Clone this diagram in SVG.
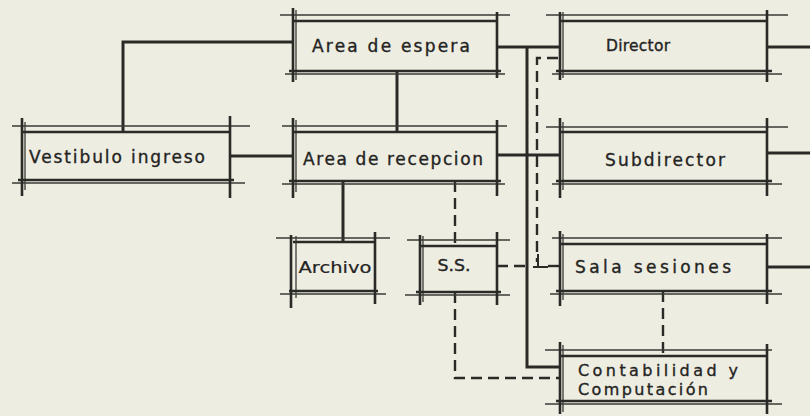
<svg xmlns="http://www.w3.org/2000/svg" width="810" height="416" viewBox="0 0 810 416">
<style>
.bg{fill:#eeede2}
.thick{stroke:#2a2a27;stroke-width:2.6;fill:none}
.thin{stroke:#3b3b37;stroke-width:1.3;fill:none}
.conn{stroke:#2a2a27;stroke-width:3;fill:none}
.dash{stroke:#2a2a27;stroke-width:2.4;fill:none;stroke-dasharray:11 6}
text{font-family:"DejaVu Sans","Liberation Sans",sans-serif;font-size:17px;fill:#242422;stroke:#242422;stroke-width:0.35}
</style>
<rect class="bg" x="0" y="0" width="810" height="416"/>
<g id="connectors">
<path class="conn" d="M123 131 V42 H293"/>
<path class="conn" d="M397 71 V131"/>
<path class="conn" d="M230 156 H293"/>
<path class="conn" d="M497 47 H560"/>
<path class="conn" d="M527 47 V367 H560"/>
<path class="conn" d="M497 155 H560"/>
<path class="conn" d="M343 181 V241"/>
<path class="conn" d="M768 47 H810"/>
<path class="conn" d="M768 153 H810"/>
<path class="conn" d="M768 267 H810"/>
<path class="dash" d="M558 58 H537 V262"/>
<path class="conn" style="stroke-width:2" d="M538 254 V267 M533 267 H548"/>
<path class="dash" d="M497 266 H531"/>
<path class="dash" d="M548 266 H560" style="stroke-dasharray:none"/>
<path class="dash" d="M455 181 V245"/>
<path class="dash" d="M455 292 V378 H560"/>
<path class="dash" d="M663 291 V355"/>
</g>
<g id="area-espera">
<path class="thin" d="M280 15 H510 M285 74 H505 M296 10 V80"/>
<path class="thick" d="M293 21 H497 M289 71 H501 M293 8 V82 M497 12 V78"/>
<text x="391" y="52" text-anchor="middle" textLength="158" lengthAdjust="spacing">Area de espera</text>
</g>
<g id="director">
<path class="thin" d="M546 15 H788 M552 74 H782 M563 12 V78"/>
<path class="thick" d="M560 21 H768 M556 71 H772 M560 12 V80 M767 10 V82"/>
<text x="638" y="51" text-anchor="middle" textLength="64" lengthAdjust="spacing" style="font-size:15.5px">Director</text>
</g>
<g id="vestibulo">
<path class="thin" d="M12 126 H250 M12 183 H245 M25 122 V190"/>
<path class="thick" d="M22 132 H230 M18 180 H234 M22 118 V196 M230 116 V198"/>
<text x="117" y="163" text-anchor="middle" textLength="176" lengthAdjust="spacing">Vestibulo ingreso</text>
</g>
<g id="area-recepcion">
<path class="thin" d="M282 126 H507 M282 184 H505 M296 120 V192"/>
<path class="thick" d="M293 132 H497 M289 181 H501 M293 118 V198 M497 120 V196"/>
<text x="393" y="165" text-anchor="middle" textLength="180" lengthAdjust="spacing">Area de recepcion</text>
</g>
<g id="subdirector">
<path class="thin" d="M546 127 H788 M552 184 H782 M563 122 V190"/>
<path class="thick" d="M560 132 H768 M556 181 H772 M560 118 V198 M767 118 V196"/>
<text x="665" y="166" text-anchor="middle" textLength="120" lengthAdjust="spacing">Subdirector</text>
</g>
<g id="archivo">
<path class="thin" d="M276 238 H390 M280 294 H386 M296 236 V298"/>
<path class="thick" d="M293 242 H374 M289 291 H378 M291 235 V308 M375 232 V304"/>
<text x="335" y="273" text-anchor="middle" textLength="73" lengthAdjust="spacingAndGlyphs" style="font-size:16px;stroke-width:0.2">Archivo</text>
</g>
<g id="ss">
<path class="thin" d="M407 240 H510 M405 295 H510 M423 236 V302"/>
<path class="thick" d="M420 246 H497 M416 292 H501 M420 235 V305 M497 232 V305"/>
<text x="454" y="271" text-anchor="middle" textLength="33" lengthAdjust="spacingAndGlyphs" style="font-size:15px">S.S.</text>
</g>
<g id="sala-sesiones">
<path class="thin" d="M552 238 H782 M550 294 H782 M563 234 V300"/>
<path class="thick" d="M560 244 H768 M556 291 H772 M560 231 V306 M767 234 V304"/>
<text x="653" y="273" text-anchor="middle" textLength="156" lengthAdjust="spacing">Sala sesiones</text>
</g>
<g id="contabilidad">
<path class="thin" d="M545 350 H772 M545 404 H782 M563 345 V412"/>
<path class="thick" d="M560 356 H768 M556 401 H772 M560 342 V414 M767 344 V414"/>
<text x="578" y="376" textLength="160" lengthAdjust="spacing" style="font-size:16px">Contabilidad y</text>
<text x="578" y="395" textLength="130" lengthAdjust="spacing" style="font-size:16px">Computación</text>
</g>
</svg>
